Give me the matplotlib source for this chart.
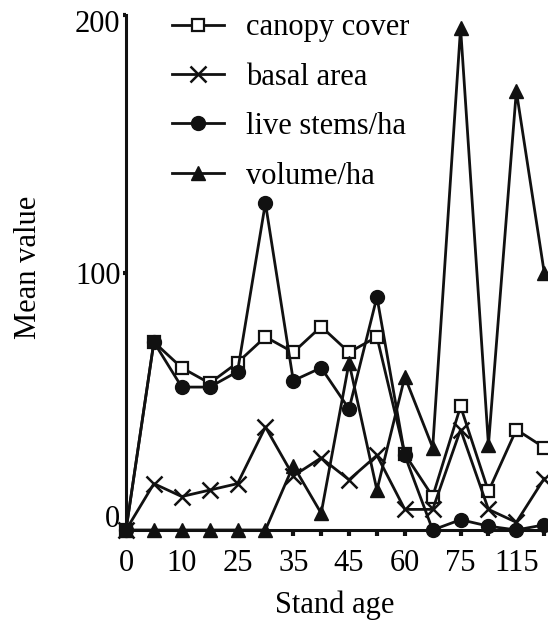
import matplotlib
matplotlib.use("Agg")
import matplotlib.pyplot as plt
import matplotlib.transforms as mtransforms

# Stand-age categories (only every other one is labelled in the chart)
age_labels = ["0", "", "10", "", "25", "", "35", "", "45", "", "60", "", "75", "", "115", ""]

canopy_cover = [0, 73, 63, 57, 65, 75, 69, 79, 69, 75, 29.5, 13, 48, 15, 39, 32]
basal_area   = [0, 18, 13, 15.5, 18, 40, 21, 28, 19.5, 29, 8, 8, 39, 8, 3, 20]
live_stems   = [0, 73, 55.5, 55.5, 61.5, 127, 58, 63, 47, 90.5, 29, 0, 4, 1.5, 0, 2]
volume       = [0, 0, 0, 0, 0, 0, 25, 6.5, 65, 15.5, 59.5, 32, 195, 33, 170.5, 100]

plt.rcParams['font.family'] = ['Liberation Serif', 'DejaVu Serif']
FS = 22

W, H = 548, 626
fig = plt.figure(figsize=(W / 100, H / 100), dpi=100)
left_px, right_px = 126, 547
bottom_px, top_px = 530, 15
aw, ah = right_px - left_px, bottom_px - top_px
ax = fig.add_axes([left_px / W, 1 - bottom_px / H, aw / W, ah / H])

x = list(range(len(age_labels)))
col = "#111111"
lw = 2.0
common = dict(color=col, lw=lw, clip_on=False)

ax.plot(x, canopy_cover, marker='s', ms=9, mfc='white', mec=col, mew=1.6,
        label='canopy cover', zorder=3, **common)
ax.plot(x, basal_area, marker='x', ms=12, mec=col, mew=1.8,
        label='basal area', zorder=4, **common)
ax.plot(x, live_stems, marker='o', ms=10, mfc=col, mec=col,
        label='live stems/ha', zorder=5, **common)
ax.plot(x, volume, marker='^', ms=10, mfc=col, mec=col,
        label='volume/ha', zorder=6, **common)

ax.set_xlim(0, 15.1)
ax.set_ylim(0, 200)
ax.set_xticks(x)
ax.set_xticklabels(age_labels, fontsize=FS)
ax.set_yticks([0, 100, 200])
ax.set_yticklabels(["0", "100", "200"], fontsize=FS)
ax.tick_params(axis='x', direction='out', length=4, width=3, color=col, pad=10)
ax.tick_params(axis='y', direction='out', length=2, width=3, color=col, pad=2)

# small vertical nudges of the y tick labels, as in the original
offsets = {"0": 14, "200": -6}
for lab in ax.get_yticklabels():
    dy = offsets.get(lab.get_text(), 0)
    if dy:
        lab.set_transform(lab.get_transform() +
                          mtransforms.ScaledTranslation(0, dy / 100, fig.dpi_scale_trans))

for s in ['top', 'right']:
    ax.spines[s].set_visible(False)
for s in ['left', 'bottom']:
    ax.spines[s].set_linewidth(2.2)
    ax.spines[s].set_color(col)

ax.set_xlabel("Stand age", fontsize=FS)
ax.set_ylabel("Mean value", fontsize=FS)
ax.xaxis.set_label_coords(209 / aw, -60 / ah)
ax.yaxis.set_label_coords(-83 / aw, 0.51)

leg = ax.legend(loc='upper left', bbox_to_anchor=(34 / aw, 1.0 + 14 / ah),
                frameon=False, fontsize=FS, handlelength=1.7,
                handletextpad=0.7, labelspacing=0.67, borderaxespad=0)

fig.savefig("out.png", dpi=100)
